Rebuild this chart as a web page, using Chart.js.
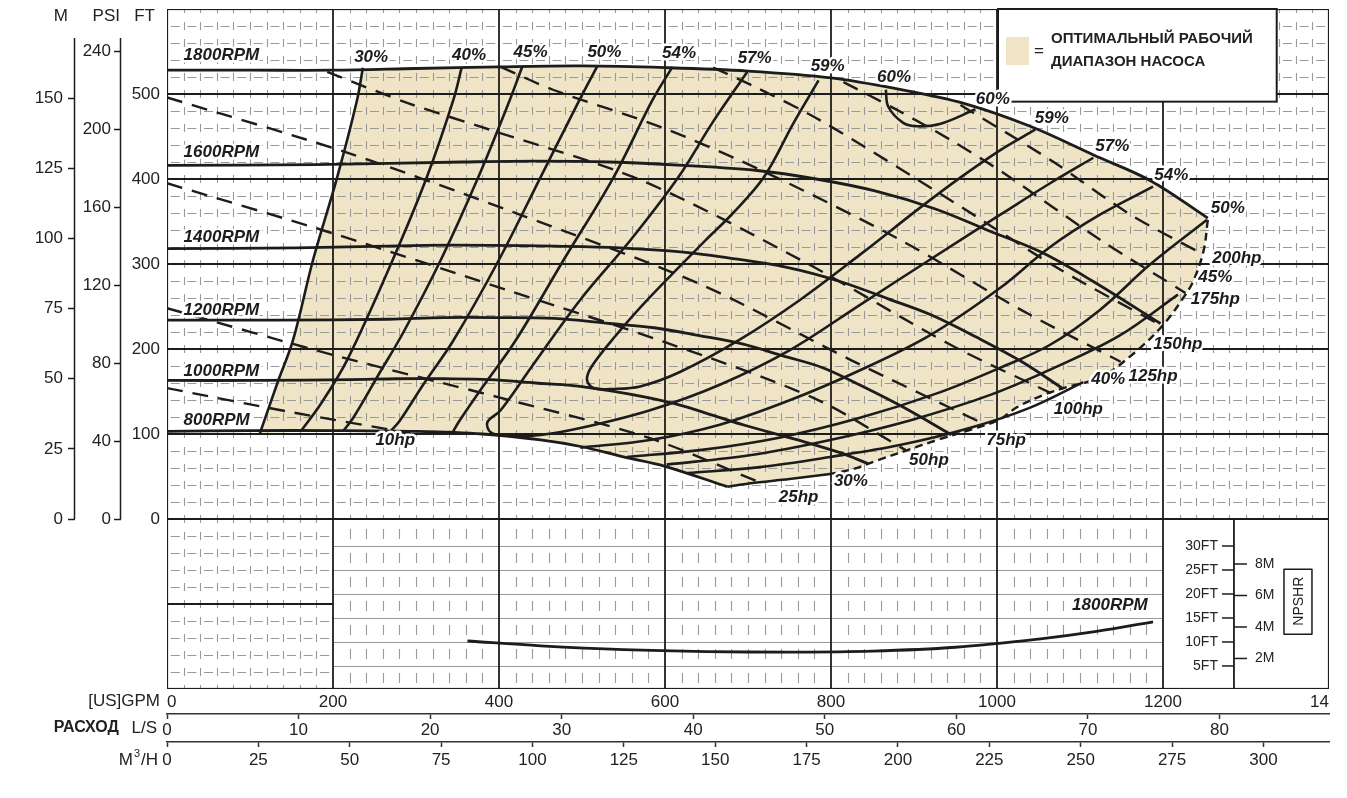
<!DOCTYPE html>
<html>
<head>
<meta charset="utf-8">
<script src="https://cdn.jsdelivr.net/npm/chart.js@4.4.1/dist/chart.umd.min.js"></script>
<style>
  html, body { margin: 0; padding: 0; background: #fff; }
  #wrap { width: 1347px; height: 798px; }
</style>
</head>
<body>
<div id="wrap"><canvas id="pump" width="1347" height="798"></canvas></div>
<script>
// axis ticks
const gpmTicks = [0, 200, 400, 600, 800, 1000, 1200, 1400];
const lsTicks = [0, 10, 20, 30, 40, 50, 60, 70, 80];
const m3hTicks = [0, 25, 50, 75, 100, 125, 150, 175, 200, 225, 250, 275, 300];
const ftTicks = [0, 100, 200, 300, 400, 500];
const psiTicks = [0, 40, 80, 120, 160, 200, 240];
const mTicks = [0, 25, 50, 75, 100, 125, 150];
const npshFtTicks = [5, 10, 15, 20, 25, 30];
const npshMTicks = [2, 4, 6, 8];

// head curves, [US GPM, FT]
const rpm1800 = [[0,528],[100,528],[200,528],[300,530],[400,532],[500,533],[600,531],[700,527],[800,519],[880,506],[960,489],[1040,462],[1117,428],[1185,398],[1254,354]];
const rpm1600 = [[0,416],[178,417],[356,420],[444,421],[533,420],[622,416],[711,410],[782,400],[853,386],[925,365],[993,338],[1053,314],[1115,280],[1197,230]];
const rpm1400 = [[0,318],[156,319],[311,322],[389,322],[467,321],[545,319],[622,314],[685,306],[747,296],[809,280],[869,259],[921,240],[975,214],[1030,185],[1080,153]];
const rpm1200 = [[0,234],[133,234],[267,235],[333,237],[400,237],[467,236],[533,230],[587,225],[640,216],[693,206],[742,192],[790,178],[836,157],[890,130],[945,99]];
const rpm1000 = [[0,163],[111,163],[222,164],[278,165],[333,165],[389,164],[444,160],[489,157],[533,151],[578,143],[618,134],[658,122],[697,110],[760,93],[811,78],[845,65]];
const rpm800 = [[0,103],[100,104],[200,104],[300,103],[380,100],[450,93],[500,85],[550,73],[600,62],[675,38]];

// efficiency lines
const eff30Left = [[236,531],[229,493],[205,402],[176,305],[152,211],[133,160],[112,101]];
const eff30Bottom = [[675,38],[703,42],[750,47],[799,53]];
const eff40Left = [[355,531],[345,493],[313,402],[272,305],[217,187],[185,135],[161,103]];
const eff40Right = [[627,54],[714,61],[799,73],[883,87],[967,107],[1040,131],[1104,161]];
const eff45Left = [[428,532],[413,493],[375,402],[330,305],[285,220],[255,170],[225,120],[212,103]];
const eff45Right = [[602,64],[702,75],[799,93],[895,116],[992,146],[1076,181],[1148,216],[1218,264]];
const eff50Left = [[518,532],[497,493],[450,402],[400,305],[345,210],[310,160],[280,115],[268,102]];
const eff50Right = [[554,73],[642,81],[739,96],[835,119],[931,149],[1004,178],[1064,205],[1124,246],[1184,299],[1253,352]];
const eff54Left = [[609,532],[585,493],[538,402],[478,305],[420,210],[380,155],[352,115],[343,100]];
const eff54Right = [[498,84],[582,93],[666,111],[751,140],[835,175],[919,216],[1004,272],[1064,320],[1124,358],[1188,391]];
const eff57 = [[699,526],[657,466],[616,402],[560,330],[498,258],[440,180],[402,128],[386,114],[390,102],[408,98],[450,99],[498,107],[582,128],[666,158],[751,199],[835,252],[919,305],[1004,358],[1064,395],[1116,425]];
const eff59 = [[785,516],[755,466],[719,402],[682,360],[649,328],[579,258],[540,215],[512,180],[506,164],[514,154],[538,153],[570,156],[618,173],[690,211],[763,258],[835,311],[907,366],[952,399],[1004,434],[1046,458]];
const eff60 = [[866,505],[869,485],[887,466],[904,462],[932,465],[974,482]];

// power lines
const hp10 = [[0,154],[148,126],[293,101]];
const hp25 = [[0,248],[200,193],[400,143],[579,96],[712,44]];
const hp50 = [[0,395],[200,336],[417,267],[600,208],[780,142],[890,81]];
const hp75 = [[0,496],[217,431],[417,361],[643,276],[824,187],[986,111]];
const hp100 = [[193,526],[291,489],[389,458],[570,399],[763,305],[944,205],[1065,148]];
const hp125 = [[402,532],[465,505],[598,460],[723,407],[884,328],[1029,246],[1149,185]];
const hp150 = [[658,531],[703,511],[787,469],[944,375],[1077,293],[1197,228]];
const hp175 = [[815,514],[880,481],[944,446],[1008,407],[1125,328],[1227,266]];
const hp200 = [[956,487],[1065,422],[1161,358],[1249,311]];

// end of curve
const rightEdge = [[1254,352],[1249,316],[1237,281],[1225,261],[1200,228],[1165,195],[1125,167],[1080,154],[1056,146],[1025,132],[1001,116],[968,105],[928,93],[892,81],[856,69],[824,58],[799,53]];

// NPSHR, [US GPM, FT]
const npshr1800 = [[362,10.2],[450,9.2],[550,8.4],[650,8.0],[750,7.9],[850,8.1],[950,8.9],[1050,10.6],[1120,12.2],[1188,14.2]];

// text on the curves: text, gpm, ft, align
const curveLabels = [
  ['1800RPM', 20, 545, 'left'], ['1600RPM', 20, 431, 'left'], ['1400RPM', 20, 331, 'left'],
  ['1200RPM', 20, 246, 'left'], ['1000RPM', 20, 174, 'left'], ['800RPM', 20, 116, 'left'],
  ['30%', 246, 543], ['40%', 364, 546], ['45%', 438, 549], ['50%', 527, 549], ['54%', 617, 548],
  ['57%', 708, 542], ['59%', 796, 533], ['60%', 876, 520],
  ['60%', 995, 494], ['59%', 1066, 471], ['57%', 1139, 439], ['54%', 1210, 404], ['50%', 1278, 365],
  ['45%', 1263, 284], ['40%', 1134, 164], ['30%', 824, 44],
  ['10hp', 275, 92], ['25hp', 761, 26], ['50hp', 918, 69], ['75hp', 1011, 93], ['100hp', 1098, 129],
  ['125hp', 1188, 168], ['150hp', 1218, 205], ['175hp', 1263, 258], ['200hp', 1289, 307]
];

const INK = '#1c1c1c';
const TAN = '#efe4c6';
const MINOR = '#999999';
const FONT = '"Liberation Sans", Arial, Helvetica, sans-serif';

// unit factors
const M_PER_FT = 0.303;
const PSI_PER_FT = 0.436;
const LS_PER_GPM = 1 / 15.85;
const M3H_PER_GPM = 0.2271;
const FT_PER_M = 1 / 0.3048;

const pts = a => a.map(([x, y]) => ({ x, y }));
const fixedTicks = arr => scale => { scale.ticks = arr.map(value => ({ value })); };

function curve(data, extra) {
  return Object.assign({
    data: pts(data), showLine: true, pointRadius: 0, borderColor: INK,
    borderWidth: 2.6, tension: 0.35, fill: false, xAxisID: 'x', yAxisID: 'y'
  }, extra || {});
}

function envelope() {
  const start = eff30Left[0];
  const top = [start].concat(rpm1800.filter(p => p[0] > start[0]));
  const bottom = rpm800.filter(p => p[0] > eff30Left[eff30Left.length - 1][0] && p[0] < eff30Bottom[0][0]).reverse();
  return top.concat(rightEdge, eff30Bottom.slice().reverse(), bottom, eff30Left.slice().reverse());
}

const pumpGrid = {
  id: 'pumpGrid',
  beforeDatasetsDraw(chart) {
    const { ctx, chartArea: ca, scales } = chart;
    const px = v => scales.x.getPixelForValue(v);
    const pf = v => scales.y.getPixelForValue(v);
    const pn = v => scales.yN.getPixelForValue(v);
    const zero = pf(0);

    ctx.save();
    ctx.beginPath();
    ctx.rect(ca.left, ca.top, ca.right - ca.left, ca.bottom - ca.top);
    ctx.clip();

    // optimum operating range
    ctx.beginPath();
    envelope().forEach(([x, y], i) => {
      if (i) ctx.lineTo(px(x), pf(y)); else ctx.moveTo(px(x), pf(y));
    });
    ctx.closePath();
    ctx.fillStyle = TAN;
    ctx.fill();

    // head panel minor grid, 20 gpm x 20 ft
    const rowH = pf(0) - pf(20);
    const colW = px(20) - px(0);
    ctx.strokeStyle = MINOR;
    ctx.lineWidth = 1.1;
    ctx.setLineDash([8, rowH - 8]);
    for (let g = 20; g < 1400; g += 20) {
      if (g % 200 === 0) continue;
      const x = Math.round(px(g)) + 0.5;
      ctx.beginPath();
      ctx.moveTo(x, pf(600) - 4);
      ctx.lineTo(x, g < 200 ? ca.bottom : zero);
      ctx.stroke();
    }
    ctx.setLineDash([9, colW - 9]);
    for (let f = -180; f < 600; f += 20) {
      if (f % 100 === 0) continue;
      const y = Math.round(pf(f)) + 0.5;
      ctx.beginPath();
      ctx.moveTo(px(0) + colW / 2 - 4.5, y);
      ctx.lineTo(f < 0 ? px(200) : px(1400), y);
      ctx.stroke();
    }

    // npshr panel
    const cell = pn(0) - pn(5);
    ctx.setLineDash([10, cell - 10]);
    for (let g = 220; g < 1200; g += 20) {
      if (g % 200 === 0) continue;
      const x = Math.round(px(g)) + 0.5;
      ctx.beginPath();
      ctx.moveTo(x, pn(32.5) - 5);
      ctx.lineTo(x, ca.bottom);
      ctx.stroke();
    }
    ctx.setLineDash([]);
    ctx.strokeStyle = '#9a9a9a';
    for (const v of npshFtTicks) {
      const y = Math.round(pn(v)) + 0.5;
      ctx.beginPath();
      ctx.moveTo(px(200), y);
      ctx.lineTo(px(1200), y);
      ctx.stroke();
    }

    // major grid
    ctx.strokeStyle = INK;
    ctx.lineWidth = 1.8;
    for (const g of gpmTicks) {
      if (g === 0 || g === 1400) continue;
      ctx.beginPath();
      ctx.moveTo(px(g), ca.top);
      ctx.lineTo(px(g), ca.bottom);
      ctx.stroke();
    }
    for (const f of ftTicks) {
      if (f === 0) continue;
      ctx.beginPath();
      ctx.moveTo(ca.left, pf(f));
      ctx.lineTo(ca.right, pf(f));
      ctx.stroke();
    }
    ctx.beginPath();
    ctx.moveTo(ca.left, pf(-100));
    ctx.lineTo(px(200), pf(-100));
    ctx.stroke();
    ctx.beginPath();
    ctx.moveTo(px(1285.5), zero);
    ctx.lineTo(px(1285.5), ca.bottom);
    ctx.stroke();
    ctx.lineWidth = 2.2;
    ctx.beginPath();
    ctx.moveTo(ca.left, zero);
    ctx.lineTo(ca.right, zero);
    ctx.stroke();
    ctx.strokeRect(ca.left, ca.top, ca.right - ca.left, ca.bottom - ca.top);
    ctx.restore();
  },

  afterDatasetsDraw(chart) {
    const { ctx, chartArea: ca, scales } = chart;
    const px = v => scales.x.getPixelForValue(v);
    const pf = v => scales.y.getPixelForValue(v);
    const pn = v => scales.yN.getPixelForValue(v);
    ctx.save();

    // legend box
    const bx0 = px(1000) + 1, by0 = ca.top, bx1 = px(1337), by1 = pf(491);
    ctx.fillStyle = '#fff';
    ctx.fillRect(bx0, by0, bx1 - bx0, by1 - by0);
    ctx.strokeStyle = INK;
    ctx.lineWidth = 2;
    ctx.strokeRect(bx0, by0, bx1 - bx0, by1 - by0);
    ctx.fillStyle = TAN;
    ctx.fillRect(bx0 + 8, by0 + 28, 23, 28);
    ctx.fillStyle = '#222';
    ctx.font = '17px ' + FONT;
    ctx.textAlign = 'center';
    ctx.textBaseline = 'middle';
    ctx.fillText('=', bx0 + 41, by0 + 42);
    ctx.font = 'bold 15px ' + FONT;
    ctx.textAlign = 'left';
    ctx.fillText('ОПТИМАЛЬНЫЙ РАБОЧИЙ', bx0 + 53, by0 + 30);
    ctx.fillText('ДИАПАЗОН НАСОСА', bx0 + 53, by0 + 53);

    // curve labels
    ctx.font = 'italic bold 17px ' + FONT;
    ctx.lineJoin = 'round';
    const label = (text, x, y, align) => {
      ctx.textAlign = align || 'center';
      ctx.strokeStyle = '#fff';
      ctx.lineWidth = 5;
      ctx.strokeText(text, x, y);
      ctx.fillStyle = INK;
      ctx.fillText(text, x, y);
    };
    for (const [text, g, f, align] of curveLabels) label(text, px(g), pf(f), align);
    label('1800RPM', px(1136), pn(17.7));

    // npshr scale
    const ax = px(1285.5);
    ctx.strokeStyle = INK;
    ctx.lineWidth = 1.5;
    ctx.fillStyle = '#222';
    ctx.font = '14px ' + FONT;
    ctx.textBaseline = 'middle';
    for (const v of npshFtTicks) {
      const y = pn(v);
      ctx.beginPath(); ctx.moveTo(ax - 12, y); ctx.lineTo(ax, y); ctx.stroke();
      ctx.textAlign = 'right';
      ctx.fillText(v + 'FT', ax - 16, y);
    }
    for (const m of npshMTicks) {
      const y = pn(m * FT_PER_M);
      ctx.beginPath(); ctx.moveTo(ax, y); ctx.lineTo(ax + 13, y); ctx.stroke();
      ctx.textAlign = 'left';
      ctx.fillText(m + 'M', ax + 21, y);
    }
    const cy = pn(18.5);
    ctx.strokeRect(ax + 50, cy - 32, 28, 65);
    ctx.translate(ax + 64, cy);
    ctx.rotate(-Math.PI / 2);
    ctx.textAlign = 'center';
    ctx.fillText('NPSHR', 0, 1);
    ctx.restore();
  },

  afterDraw(chart) {
    const { ctx, chartArea: ca, scales } = chart;
    const pf = v => scales.y.getPixelForValue(v);
    ctx.save();
    ctx.strokeStyle = INK;
    ctx.lineWidth = 1.5;
    for (const s of [scales.yM, scales.yPsi]) {
      ctx.beginPath();
      ctx.moveTo(s.right - 0.5, pf(566));
      ctx.lineTo(s.right - 0.5, pf(0));
      ctx.stroke();
    }
    ctx.fillStyle = '#222';
    ctx.font = '17px ' + FONT;
    ctx.textBaseline = 'middle';
    ctx.textAlign = 'right';
    const hy = ca.top + 7;
    ctx.fillText('M', scales.yM.right - 7, hy);
    ctx.fillText('PSI', scales.yPsi.right - 1, hy);
    ctx.fillText('FT', scales.y.right - 12, hy);

    ctx.fillText('[US]GPM', ca.left - 7, scales.x.top + 12);
    const ly = scales.xLs.top + 14;
    ctx.fillText('L/S', ca.left - 10, ly);
    ctx.font = 'bold 16px ' + FONT;
    ctx.fillText('РАСХОД', ca.left - 48, ly);
    const my = scales.xM3.top + 18;
    ctx.font = '17px ' + FONT;
    ctx.fillText('/H', ca.left - 9, my);
    let right = ca.left - 9 - ctx.measureText('/H').width;
    ctx.font = '11px ' + FONT;
    ctx.fillText('3', right - 1, my - 6);
    right -= ctx.measureText('3').width + 2;
    ctx.font = '17px ' + FONT;
    ctx.fillText('M', right, my);
    ctx.restore();
  }
};

Chart.defaults.font.family = FONT;
Chart.defaults.color = '#222';

const tickFont = { size: 17 };
const noPadV = s => { s.paddingTop = 0; s.paddingBottom = 0; };
const noPadH = s => { s.paddingLeft = 0; s.paddingRight = 0; };

new Chart(document.getElementById('pump'), {
  type: 'scatter',
  data: {
    datasets: [
      curve(rpm1800, { borderWidth: 2.8 }),
      curve(rpm1600, { borderWidth: 2.8 }),
      curve(rpm1400, { borderWidth: 2.8 }),
      curve(rpm1200, { borderWidth: 2.8 }),
      curve(rpm1000, { borderWidth: 2.8 }),
      curve(rpm800, { borderWidth: 2.8 }),
      curve(eff30Left), curve(eff30Bottom),
      curve(eff40Left), curve(eff40Right),
      curve(eff45Left), curve(eff45Right),
      curve(eff50Left), curve(eff50Right),
      curve(eff54Left), curve(eff54Right),
      curve(eff57), curve(eff59), curve(eff60),
      ...[hp10, hp25, hp50, hp75, hp100, hp125, hp150, hp175, hp200].map(d =>
        curve(d, { borderDash: [16, 10], borderWidth: 2.4, tension: 0.3 })),
      curve(rightEdge, { borderDash: [8, 5], borderWidth: 2.4 }),
      curve(npshr1800, { yAxisID: 'yN', borderWidth: 2.8 })
    ]
  },
  options: {
    responsive: false,
    animation: false,
    events: [],
    layout: { padding: { left: 0, right: 18, top: 9, bottom: 16 } },
    plugins: { legend: { display: false }, tooltip: { enabled: false } },
    scales: {
      x: {
        type: 'linear', position: 'bottom', min: 0, max: 1400, weight: 0,
        afterBuildTicks: fixedTicks(gpmTicks),
        afterFit: s => { s.height = 25; noPadH(s); },
        grid: { display: false, drawTicks: false }, border: { display: false },
        ticks: { font: tickFont, padding: 3, maxRotation: 0, autoSkip: false, align: 'inner',
                 callback: v => (v === 1400 ? '14' : String(v)) }
      },
      xLs: {
        type: 'linear', position: 'bottom', min: 0, max: 1400 * LS_PER_GPM, weight: 1,
        afterBuildTicks: fixedTicks(lsTicks),
        afterFit: s => { s.height = 28; noPadH(s); },
        grid: { display: true, drawOnChartArea: false, tickLength: 5, tickColor: '#333', tickWidth: 1.5 },
        border: { display: true, color: '#333', width: 1.5 },
        ticks: { font: tickFont, padding: 1, maxRotation: 0, autoSkip: false, callback: v => String(v) }
      },
      xM3: {
        type: 'linear', position: 'bottom', min: 0, max: 1400 * M3H_PER_GPM, weight: 2,
        afterBuildTicks: fixedTicks(m3hTicks),
        afterFit: s => { s.height = 40; noPadH(s); },
        grid: { display: true, drawOnChartArea: false, tickLength: 5, tickColor: '#333', tickWidth: 1.5 },
        border: { display: true, color: '#333', width: 1.5 },
        ticks: { font: tickFont, padding: 3, maxRotation: 0, autoSkip: false, callback: v => String(v) }
      },
      y: {
        type: 'linear', position: 'left', min: -200, max: 600, weight: 1,
        afterBuildTicks: fixedTicks(ftTicks),
        afterFit: s => { s.width = 46; noPadV(s); },
        grid: { display: false, drawTicks: false }, border: { display: false },
        ticks: { font: tickFont, padding: 7, callback: v => String(v) }
      },
      yPsi: {
        type: 'linear', position: 'left', min: -200 * PSI_PER_FT, max: 600 * PSI_PER_FT, weight: 2,
        afterBuildTicks: fixedTicks(psiTicks),
        afterFit: s => { s.width = 46; noPadV(s); },
        grid: { display: true, drawOnChartArea: false, tickLength: 7, tickColor: INK, tickWidth: 1.5 },
        border: { display: false },
        ticks: { font: tickFont, padding: 3, callback: v => String(v) }
      },
      yM: {
        type: 'linear', position: 'left', min: -200 * M_PER_FT, max: 600 * M_PER_FT, weight: 3,
        afterBuildTicks: fixedTicks(mTicks),
        afterFit: s => { s.width = 75; noPadV(s); },
        grid: { display: true, drawOnChartArea: false, tickLength: 7, tickColor: INK, tickWidth: 1.5 },
        border: { display: false },
        ticks: { font: tickFont, padding: 5, callback: v => String(v) }
      },
      yN: {
        type: 'linear', position: 'right', display: false, min: 0.2, max: 141.9
      }
    }
  },
  plugins: [pumpGrid]
});
</script>
</body>
</html>
